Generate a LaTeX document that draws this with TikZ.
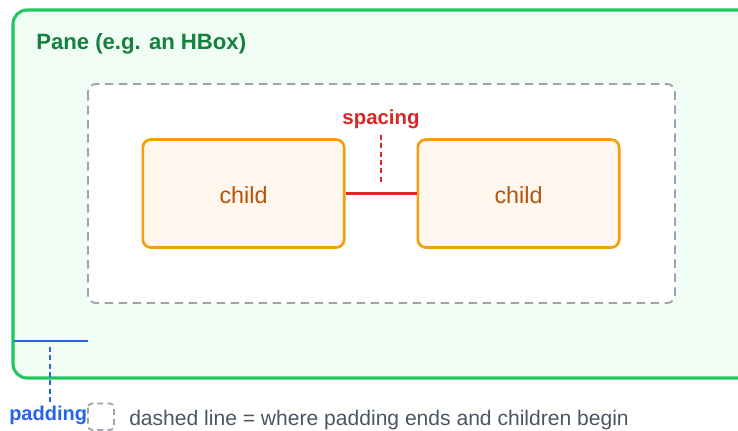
\documentclass[tikz,border=0pt]{standalone}
\usepackage{fontspec}
\setmainfont{Liberation Sans}
\definecolor{panegreen}{HTML}{22C55E}
\definecolor{panefill}{HTML}{F0FDF4}
\definecolor{panetext}{HTML}{15803D}
\definecolor{dashgray}{HTML}{9CA3AF}
\definecolor{kidorange}{HTML}{F59E0B}
\definecolor{kidfill}{HTML}{FFF7ED}
\definecolor{kidtext}{HTML}{B45309}
\definecolor{spacered}{HTML}{DC2626}
\definecolor{padblue}{HTML}{2563EB}
\definecolor{notegray}{HTML}{4B5563}
\tikzset{
  panebox/.style={draw=panegreen, fill=panefill, line width=2.3pt, rounded corners=10.5pt},
  contentbox/.style={draw=dashgray, fill=white, line width=1.4pt, dash pattern=on 6.5pt off 4pt, rounded corners=6pt},
  kidbox/.style={draw=kidorange, fill=kidfill, line width=2pt, rounded corners=6pt,
    minimum width=151pt, minimum height=81pt, inner sep=0pt, text height=15.8pt,
    text=kidtext, font=\fontsize{17.5}{20}\selectfont},
  gapline/.style={draw=spacered, line width=2pt},
  gapguide/.style={draw=spacered, line width=1.2pt, dash pattern=on 3.75pt off 2.5pt},
  padline/.style={draw=padblue, line width=2pt},
  padguide/.style={draw=padblue, line width=1.2pt, dash pattern=on 3.75pt off 2.5pt},
  lbl/.style={inner sep=0pt, font=\bfseries\fontsize{15.3}{17}\selectfont},
}
\begin{document}
\begin{tikzpicture}[x=0.75pt, y=-0.75pt]
\useasboundingbox (0,0) rectangle (738,431);
\clip (0,0) rectangle (738,431);
% the pane and its padded content area
\draw[panebox] (13,10) rectangle (770,378);
\node[lbl, text=panetext, anchor=base west, font=\bfseries\fontsize{16.6}{19}\selectfont] (title) at (36,50) {Pane (e.g. an HBox)};
\draw[contentbox] (88,84) rectangle (675,303);
% two children separated by the spacing gap
\node[kidbox] (c1) at (243.5,193.5) {child};
\node[kidbox] (c2) at (518.5,193.5) {child};
\draw[gapline] (c1.east) -- (c2.east -| c2.west);
\node[lbl, text=spacered, anchor=base] (sp) at (381,125) {spacing};
\coordinate (gapmid) at (381,183);
\draw[gapguide] (381,135) -- (gapmid);
% padding marker
\coordinate (padL) at (14,341);
\coordinate (padR) at (88,341);
\draw[padline] (padL) -- (padR);
\node[lbl, text=padblue, anchor=base west, font=\bfseries\fontsize{15}{17}\selectfont] (pad) at (9,420) {padding};
\coordinate (padtop) at (50,347);
\draw[padguide] (padtop) -- (50,404);
% legend
\draw[contentbox, fill=none, line width=1.3pt, dash pattern=on 4.5pt off 3pt, rounded corners=3pt] (88,403.5) rectangle (114,430);
\node[inner sep=0pt, anchor=base west, text=notegray, font=\fontsize{15.8}{18}\selectfont] (note) at (129,425) {dashed line = where padding ends and children begin};
\end{tikzpicture}
\end{document}
